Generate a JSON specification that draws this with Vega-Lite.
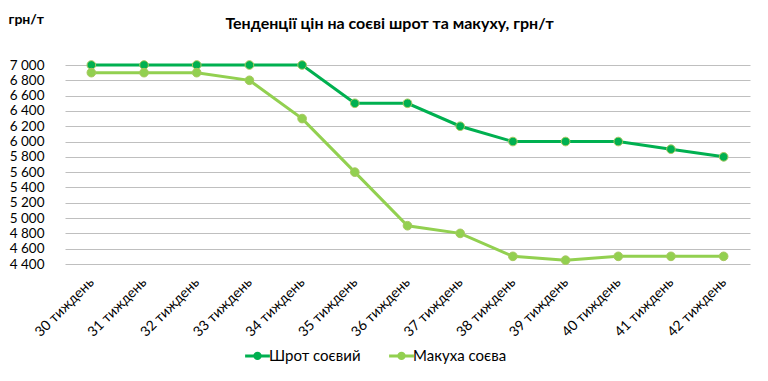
{
  "$schema": "https://vega.github.io/schema/vega-lite/v6.json",
  "width": 685,
  "height": 199,
  "autosize": {"type": "none"},
  "padding": {"left": 65, "top": 65, "right": 18, "bottom": 117},
  "background": "white",
  "title": {
    "text": "Тенденції цін на соєві шрот та макуху, грн/т",
    "font": "Lato",
    "fontSize": 16,
    "fontWeight": "bold",
    "color": "#000000",
    "anchor": "middle",
    "frame": "group",
    "offset": 0,
    "dy": 20,
    "dx": -18
  },
  "data": {
    "values": [
      {"week": "30 тиждень", "series": "Шрот соєвий", "price": 7000},
      {"week": "31 тиждень", "series": "Шрот соєвий", "price": 7000},
      {"week": "32 тиждень", "series": "Шрот соєвий", "price": 7000},
      {"week": "33 тиждень", "series": "Шрот соєвий", "price": 7000},
      {"week": "34 тиждень", "series": "Шрот соєвий", "price": 7000},
      {"week": "35 тиждень", "series": "Шрот соєвий", "price": 6500},
      {"week": "36 тиждень", "series": "Шрот соєвий", "price": 6500},
      {"week": "37 тиждень", "series": "Шрот соєвий", "price": 6200},
      {"week": "38 тиждень", "series": "Шрот соєвий", "price": 6000},
      {"week": "39 тиждень", "series": "Шрот соєвий", "price": 6000},
      {"week": "40 тиждень", "series": "Шрот соєвий", "price": 6000},
      {"week": "41 тиждень", "series": "Шрот соєвий", "price": 5900},
      {"week": "42 тиждень", "series": "Шрот соєвий", "price": 5800},
      {"week": "30 тиждень", "series": "Макуха соєва", "price": 6900},
      {"week": "31 тиждень", "series": "Макуха соєва", "price": 6900},
      {"week": "32 тиждень", "series": "Макуха соєва", "price": 6900},
      {"week": "33 тиждень", "series": "Макуха соєва", "price": 6800},
      {"week": "34 тиждень", "series": "Макуха соєва", "price": 6300},
      {"week": "35 тиждень", "series": "Макуха соєва", "price": 5600},
      {"week": "36 тиждень", "series": "Макуха соєва", "price": 4900},
      {"week": "37 тиждень", "series": "Макуха соєва", "price": 4800},
      {"week": "38 тиждень", "series": "Макуха соєва", "price": 4500},
      {"week": "39 тиждень", "series": "Макуха соєва", "price": 4450},
      {"week": "40 тиждень", "series": "Макуха соєва", "price": 4500},
      {"week": "41 тиждень", "series": "Макуха соєва", "price": 4500},
      {"week": "42 тиждень", "series": "Макуха соєва", "price": 4500}
    ]
  },
  "encoding": {
    "x": {
      "field": "week",
      "type": "ordinal",
      "sort": null,
      "scale": {"type": "point", "padding": 0.5},
      "axis": {
        "title": null,
        "labelAngle": -45,
        "labelAlign": "right",
        "labelBaseline": "middle",
        "labelFont": "Lato",
        "labelFontSize": 14,
        "labelColor": "#000000",
        "labelPadding": 16,
        "ticks": false,
        "domain": false,
        "grid": false
      }
    },
    "y": {
      "field": "price",
      "type": "quantitative",
      "scale": {"domain": [4400, 7000], "nice": false, "zero": false},
      "axis": {
        "values": [4400, 4600, 4800, 5000, 5200, 5400, 5600, 5800, 6000, 6200, 6400, 6600, 6800, 7000],
        "labelExpr": "replace(format(datum.value, ','), ',', ' ')",
        "labelFont": "Lato",
        "labelFontSize": 13.5,
        "labelColor": "#000000",
        "labelPadding": 21,
        "labelOverlap": false,
        "ticks": false,
        "domain": false,
        "grid": true,
        "gridColor": "#bfbfbf",
        "gridWidth": 1,
        "title": "грн/т",
        "titleAngle": 0,
        "titleFont": "Lato",
        "titleFontSize": 14,
        "titleFontWeight": "bold",
        "titleColor": "#000000",
        "titleAlign": "left",
        "titleBaseline": "middle",
        "titleX": -57,
        "titleY": -46
      }
    },
    "color": {
      "field": "series",
      "type": "nominal",
      "sort": ["Шрот соєвий", "Макуха соєва"],
      "scale": {"domain": ["Шрот соєвий", "Макуха соєва"], "range": ["#00B050", "#92D050"]},
      "legend": {
        "title": null,
        "orient": "none",
        "legendX": 183,
        "legendY": 281,
        "direction": "horizontal",
        "labelFont": "Lato",
        "labelFontSize": 15,
        "labelColor": "#000000",
        "labelOffset": 2,
        "symbolType": "M-1.6,0H1.6M0.35,0A0.35,0.35,0,1,1,-0.35,0A0.35,0.35,0,1,1,0.35,0",
        "symbolSize": 240,
        "symbolStrokeWidth": 3,
        "columnPadding": 22
      }
    }
  },
  "layer": [
    {
      "mark": {"type": "line", "strokeWidth": 3}
    },
    {
      "mark": {"type": "point", "filled": true, "size": 75, "opacity": 1, "stroke": "#a8c860", "strokeWidth": 1}
    }
  ],
  "config": {
    "view": {"stroke": null}
  }
}
